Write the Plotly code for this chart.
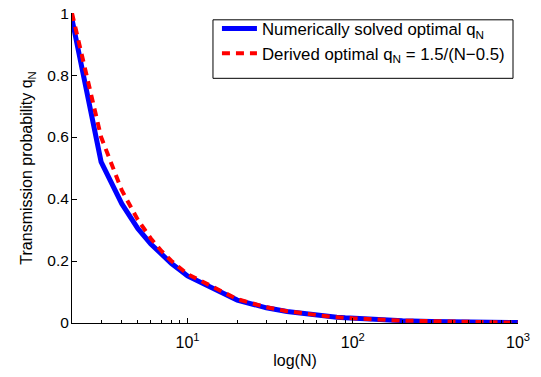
import plotly.graph_objects as go

N_vals = [2, 3, 4, 5, 6, 7, 8, 9, 10, 20, 30, 40, 50, 60, 70, 80, 90, 100,
          200, 300, 400, 500, 600, 700, 800, 900, 1000]
q_numeric = [0.98, 0.52, 0.385, 0.305, 0.255, 0.219, 0.192, 0.171, 0.152,
             0.074, 0.049, 0.037, 0.0298, 0.0249, 0.0214, 0.0187, 0.0166, 0.015,
             0.0075, 0.005, 0.00374, 0.003, 0.0025, 0.00214, 0.00188, 0.00167, 0.0015]
q_derived = [1.0, 0.6, 0.4286, 0.3333, 0.2727, 0.2308, 0.2, 0.1765, 0.1579,
             0.0769, 0.0508, 0.038, 0.0303, 0.0252, 0.0216, 0.0189, 0.0168, 0.0151,
             0.00752, 0.005, 0.00375, 0.003, 0.0025, 0.00214, 0.00188, 0.00167, 0.0015]

x_tickvals = [10, 100, 1000]
x_ticktext = ["10<sup>1</sup>", "10<sup>2</sup>", "10<sup>3</sup>"]
x_minor = [3, 4, 5, 6, 7, 8, 9, 20, 30, 40, 50, 60, 70, 80, 90,
           200, 300, 400, 500, 600, 700, 800, 900]
y_tickvals = [0, 0.2, 0.4, 0.6, 0.8, 1]
y_ticktext = ["0", "0.2", "0.4", "0.6", "0.8", "1"]

fig = go.Figure()
fig.add_trace(go.Scatter(x=N_vals, y=q_numeric, mode="lines",
                         name="Numerically solved optimal q<sub>N</sub>",
                         legendgroup="a",
                         line=dict(color="#0000FF", width=5)))
fig.add_trace(go.Scatter(x=N_vals, y=q_derived, mode="lines",
                         name="Derived optimal q<sub>N</sub> = 1.5/(N\u22120.5)",
                         legendgroup="b",
                         line=dict(color="#FF0000", width=4, dash="8px,6px")))

# legend frame
fig.add_shape(type="rect", xref="paper", yref="paper",
              x0=0.3161, x1=0.9888, y0=0.7893, y1=0.978,
              line=dict(color="black", width=1), fillcolor="rgba(0,0,0,0)")

fig.update_layout(
    width=541, height=377,
    margin=dict(l=72, r=23, t=5, b=54),
    paper_bgcolor="white", plot_bgcolor="white",
    font=dict(family="Liberation Sans, Arial, Helvetica, sans-serif", size=16, color="black"),
    showlegend=True,
    legend=dict(x=0.325, y=1.0063, xanchor="left", yanchor="top",
                borderwidth=0, bgcolor="rgba(0,0,0,0)",
                font=dict(size=16.8), tracegroupgap=0, itemwidth=35),
    xaxis=dict(type="log", range=[0.30103, 3], tickmode="array",
               tickvals=x_tickvals, ticktext=x_ticktext,
               ticks="inside", ticklen=5, tickcolor="black",
               tickfont=dict(size=16), ticklabelstandoff=5,
               showline=True, linecolor="black", linewidth=1,
               showgrid=False, zeroline=False,
               minor=dict(tickmode="array", tickvals=x_minor, ticks="inside",
                          ticklen=3, tickcolor="black", showgrid=False),
               title=dict(text="log(N)", font=dict(size=16), standoff=4)),
    yaxis=dict(range=[0, 1.0003], tickmode="array", tickvals=y_tickvals,
               ticktext=y_ticktext, ticks="inside", ticklen=5, tickcolor="black",
               tickfont=dict(size=15.5), ticklabeloverflow="allow",
               ticklabelstandoff=-1,
               showline=True, linecolor="black", linewidth=1,
               showgrid=False, zeroline=False,
               title=dict(text="Transmission probability q<sub>N</sub>",
                          font=dict(size=16), standoff=10)),
)

fig.write_html("out.html", config={"displayModeBar": False},
               post_script="document.body.style.margin='0';document.body.style.overflow='hidden';")
